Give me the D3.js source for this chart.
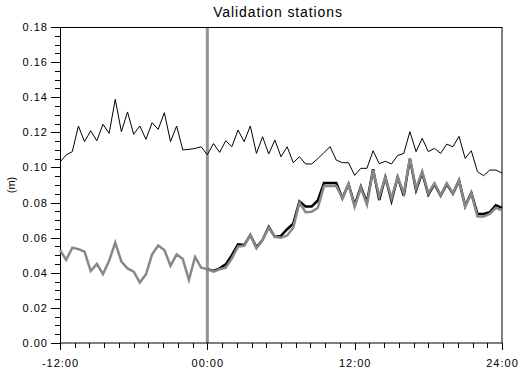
<!DOCTYPE html>
<html>
<head>
<meta charset="utf-8">
<script src="https://cdn.jsdelivr.net/npm/d3@7"></script>
<style>
  html, body { margin: 0; padding: 0; background: #fff; }
  svg { display: block; }
  text { font-family: "Liberation Sans", Arial, sans-serif; fill: #000; }
</style>
</head>
<body>
<svg id="chart" width="518" height="372"></svg>
<script>
// Half-hourly time steps, hours relative to the forecast start (00:00)
const hours = d3.range(-12, 24.001, 0.5);

// Water level at the validation stations (m)
const upperStation = [
  0.1031, 0.1071, 0.1090, 0.1236, 0.1147, 0.1209, 0.1152, 0.1246, 0.1194, 0.1388,
  0.1204, 0.1316, 0.1189, 0.1236, 0.1160, 0.1255, 0.1217, 0.1312, 0.1147, 0.1236,
  0.1100, 0.1103, 0.1108, 0.1118, 0.1072, 0.1136, 0.1086, 0.1152, 0.1118, 0.1213,
  0.1147, 0.1236, 0.1080, 0.1175, 0.1077, 0.1156, 0.1061, 0.1118, 0.1027, 0.1061,
  0.1020, 0.1020, 0.1050, 0.1085, 0.1118, 0.1042, 0.1027, 0.1027, 0.0955, 0.0995,
  0.0995, 0.1095, 0.1022, 0.1035, 0.1020, 0.1068, 0.1080, 0.1204, 0.1090, 0.1166,
  0.1090, 0.1109, 0.1080, 0.1133, 0.1118, 0.1177, 0.1052, 0.1095, 0.0976, 0.0953,
  0.0985, 0.0985, 0.0968
];

const lowerStation = [
  0.0530, 0.0473, 0.0543, 0.0535, 0.0520, 0.0410, 0.0451, 0.0392, 0.0468, 0.0572,
  0.0463, 0.0425, 0.0406, 0.0345, 0.0391, 0.0505, 0.0555, 0.0530, 0.0440, 0.0505,
  0.0478, 0.0359, 0.0490, 0.0429, 0.0421, 0.0406, 0.0420, 0.0429, 0.0482, 0.0549,
  0.0554, 0.0615, 0.0539, 0.0587, 0.0657, 0.0605, 0.0600, 0.0612, 0.0657, 0.0800,
  0.0745, 0.0748, 0.0770, 0.0894, 0.0896, 0.0894, 0.0825, 0.0905, 0.0776, 0.0885,
  0.0788, 0.0985, 0.0833, 0.0945, 0.0824, 0.0945, 0.0853, 0.1052, 0.0881, 0.0976,
  0.0853, 0.0910, 0.0843, 0.0910, 0.0853, 0.0928, 0.0776, 0.0853, 0.0720, 0.0720,
  0.0735, 0.0770, 0.0755
];

// Forecast for the lower station, from 00:00 onwards
const forecastHours = hours.filter(h => h >= 0);
const lowerForecast = [
  0.0421, 0.0410, 0.0425, 0.0448, 0.0500, 0.0562, 0.0558, 0.0615, 0.0545, 0.0587,
  0.0662, 0.0605, 0.0610, 0.0648, 0.0680, 0.0807, 0.0778, 0.0778, 0.0812, 0.0912,
  0.0912, 0.0912, 0.0825, 0.0905, 0.0785, 0.0890, 0.0800, 0.0990, 0.0815, 0.0945,
  0.0810, 0.0945, 0.0840, 0.1050, 0.0870, 0.0970, 0.0845, 0.0905, 0.0840, 0.0905,
  0.0850, 0.0925, 0.0780, 0.0855, 0.0735, 0.0735, 0.0745, 0.0785, 0.0770
];

const xMajorTicks = [-12, 0, 12, 24];
const xTickLabels = ["-12:00", "00:00", "12:00", "24:00"];
const yMajorTicks = [0, 0.02, 0.04, 0.06, 0.08, 0.10, 0.12, 0.14, 0.16, 0.18];

const svg = d3.select("#chart");
const margin = { left: 60, right: 16, top: 27, bottom: 29 };
const W = 518, H = 372;
const x = d3.scaleLinear().domain([-12, 24]).range([margin.left, W - margin.right]);
const y = d3.scaleLinear().domain([0, 0.18]).range([H - margin.bottom, margin.top]);

// Title
svg.append("text")
  .attr("x", (x.range()[0] + x.range()[1]) / 2 - 3)
  .attr("y", 17)
  .attr("text-anchor", "middle")
  .style("font-size", "14px")
  .style("letter-spacing", "0.9px")
  .text("Validation stations");

// Y axis label
svg.append("text")
  .attr("transform", `translate(15,${(y.range()[0] + y.range()[1]) / 2}) rotate(-90)`)
  .attr("text-anchor", "middle")
  .style("font-size", "11px")
  .text("(m)");

// Forecast start marker
svg.append("line")
  .attr("x1", x(0)).attr("x2", x(0))
  .attr("y1", y(0.18)).attr("y2", y(0))
  .attr("stroke", "#939393")
  .attr("stroke-width", 3);

// Y axis: minor ticks every 0.005, labelled majors every 0.02
const yMinor = d3.axisLeft(y).tickValues(d3.range(0, 0.1801, 0.005)).tickSize(5).tickFormat("");
const yMajor = d3.axisLeft(y).tickValues(yMajorTicks).tickSize(9).tickPadding(3).tickFormat(d3.format(".2f"));
svg.append("g").attr("transform", `translate(${margin.left},0)`).call(yMinor)
  .call(g => g.select(".domain").remove());
svg.append("g").attr("transform", `translate(${margin.left},0)`).call(yMajor)
  .call(g => g.select(".domain").remove())
  .call(g => g.selectAll("text").style("font-size", "11px").style("letter-spacing", "1px")
    .attr("font-family", null));

// X axis: minor ticks every 1.2 h, labelled majors every 12 h
const xMinor = d3.axisBottom(x).tickValues(d3.range(-12, 24.001, 1.2)).tickSize(5).tickFormat("");
const xMajor = d3.axisBottom(x).tickValues(xMajorTicks).tickSize(7).tickPadding(9)
  .tickFormat((d, i) => xTickLabels[i]);
svg.append("g").attr("transform", `translate(0,${y(0)})`).call(xMinor)
  .call(g => g.select(".domain").remove());
svg.append("g").attr("transform", `translate(0,${y(0)})`).call(xMajor)
  .call(g => g.select(".domain").remove())
  .call(g => g.selectAll("text").style("font-size", "11px").style("letter-spacing", "1px")
    .attr("font-family", null));

svg.selectAll(".tick line").attr("stroke", "#000").attr("shape-rendering", "crispEdges");

// Plot frame
svg.append("rect")
  .attr("x", x(-12) + 0.5).attr("y", y(0.18) + 0.5)
  .attr("width", x(24) - x(-12) - 0.5).attr("height", y(0) - y(0.18) - 0.5)
  .attr("fill", "none").attr("stroke", "#000").attr("stroke-width", 1);

const line = (xs) => d3.line().x((d, i) => x(xs[i])).y(d => y(d));

svg.append("path").datum(upperStation)
  .attr("d", line(hours))
  .attr("fill", "none").attr("stroke", "#000").attr("stroke-width", 1);

svg.append("path").datum(lowerForecast)
  .attr("d", line(forecastHours))
  .attr("fill", "none").attr("stroke", "#000").attr("stroke-width", 2.5);

svg.append("path").datum(lowerStation)
  .attr("d", line(hours))
  .attr("fill", "none").attr("stroke", "#888").attr("stroke-width", 2.5);
</script>
</body>
</html>
